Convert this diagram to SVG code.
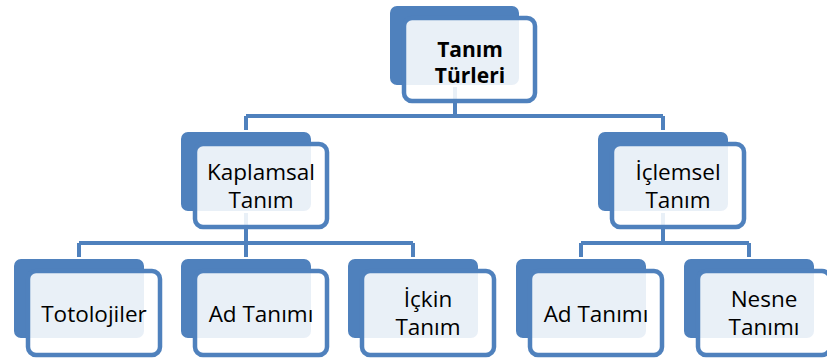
<svg xmlns="http://www.w3.org/2000/svg" width="827" height="363" viewBox="0 0 827 363">
<style>
.back{fill:#4F81BD;stroke:#FFFFFF;stroke-width:2}
.front{fill:#FFFFFF;fill-opacity:0.88;stroke:#4F81BD;stroke-width:4.5}
.conn{fill:none;stroke:#4F81BD;stroke-width:4;stroke-linejoin:miter}
text{font-family:"Open Sans","Noto Sans","Liberation Sans",sans-serif;font-size:22.5px;fill:#000;text-anchor:middle}
.root{font-weight:bold;font-size:21px}
</style>
<rect width="827" height="363" fill="#FFFFFF"/>
<g id="connectors">
<path class="conn" d="M455 86 V116 M246 116 H663 M246 116 V131 M663 116 V131"/>
<path class="conn" d="M246 212 V243 M79 243 H413 M79 243 V258 M246 243 V258 M413 243 V258"/>
<path class="conn" d="M663 212 V243 M581 243 H749 M581 243 V258 M749 243 V258"/>
</g>
<g id="root">
<rect class="back" x="389" y="5" width="131" height="81" rx="8"/>
<rect class="front" x="404" y="18" width="131" height="83" rx="8"/>
<text class="root" x="470" y="57">Tanım</text>
<text class="root" x="470" y="83">Türleri</text>
</g>
<g id="kaplamsal">
<rect class="back" x="180" y="131" width="132" height="81" rx="8"/>
<rect class="front" x="195" y="144" width="132" height="83" rx="8"/>
<text x="261" y="180">Kaplamsal</text>
<text x="261" y="208">Tanım</text>
</g>
<g id="iclemsel">
<rect class="back" x="597" y="131" width="132" height="81" rx="8"/>
<rect class="front" x="612" y="144" width="132" height="83" rx="8"/>
<text x="678" y="180">İçlemsel</text>
<text x="678" y="208">Tanım</text>
</g>
<g id="totolojiler">
<rect class="back" x="13" y="258" width="132" height="81" rx="8"/>
<rect class="front" x="28" y="271" width="132" height="84" rx="8"/>
<text x="94" y="322">Totolojiler</text>
</g>
<g id="ad-tanimi-1">
<rect class="back" x="180" y="258" width="132" height="81" rx="8"/>
<rect class="front" x="195" y="271" width="132" height="84" rx="8"/>
<text x="261" y="322">Ad Tanımı</text>
</g>
<g id="ickin-tanim">
<rect class="back" x="347" y="258" width="132" height="81" rx="8"/>
<rect class="front" x="362" y="271" width="132" height="84" rx="8"/>
<text x="428" y="307">İçkin</text>
<text x="428" y="335">Tanım</text>
</g>
<g id="ad-tanimi-2">
<rect class="back" x="515" y="258" width="132" height="81" rx="8"/>
<rect class="front" x="530" y="271" width="132" height="84" rx="8"/>
<text x="596" y="322">Ad Tanımı</text>
</g>
<g id="nesne-tanimi">
<rect class="back" x="683" y="258" width="132" height="81" rx="8"/>
<rect class="front" x="698" y="271" width="132" height="84" rx="8"/>
<text x="764" y="307">Nesne</text>
<text x="764" y="335">Tanımı</text>
</g>
</svg>
